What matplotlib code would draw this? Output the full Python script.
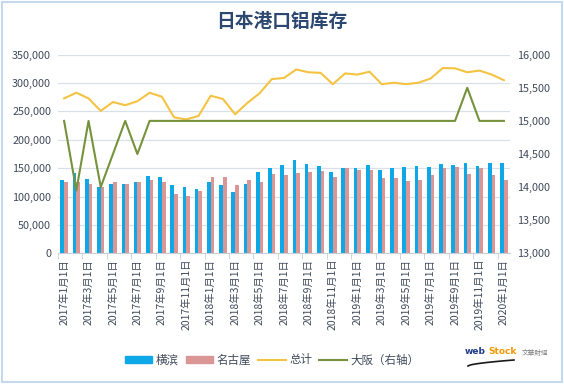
import matplotlib.pyplot as plt
import numpy as np
from matplotlib.patches import Rectangle, Patch
from matplotlib.lines import Line2D

plt.rcParams['font.family'] = ['Noto Sans CJK SC', 'DejaVu Sans']

# 月份 2017-01 .. 2020-01
dates = []
for y in (2017, 2018, 2019, 2020):
    for m in range(1, 13):
        dates.append(f"{y}年{m}月1日")
dates = dates[:37]

# 横滨、名古屋 (吨)
yokohama = [129500, 142000, 131000, 117000, 123000, 123000, 126000, 136500, 134750, 119500,
            117000, 113750, 126000, 120000, 108500, 123000, 143500, 150500, 155750, 164500,
            157500, 154000, 143500, 150500, 150500, 155750, 147000, 150500, 152000, 154000,
            152000, 157500, 155750, 159000, 154000, 159000, 159000]
nagoya = [126000, 125000, 123000, 117000, 126000, 123000, 126000, 130000, 125000, 105000,
          101500, 109000, 134750, 134750, 121000, 129500, 125000, 140000, 138250, 141750,
          143500, 145750, 135300, 150500, 147000, 147000, 133000, 133000, 127000, 129500,
          138700, 150500, 152000, 140500, 150500, 138000, 129500]
# 总计
total = [273000, 283000, 273000, 251000, 266600, 261000, 268000, 283000, 276000, 239600,
         236000, 242000, 277700, 272000, 245000, 265000, 282000, 307000, 309000, 324000,
         319000, 318000, 298000, 317000, 315000, 320000, 298000, 300600, 298000, 300600,
         308000, 326500, 326000, 319000, 322000, 315000, 305000]
# 大阪 (右轴)
osaka = [15000, 13950, 15000, 14000, 14500, 15000, 14500, 15000, 15000, 15000,
         15000, 15000, 15000, 15000, 15000, 15000, 15000, 15000, 15000, 15000,
         15000, 15000, 15000, 15000, 15000, 15000, 15000, 15000, 15000, 15000,
         15000, 15000, 15000, 15500, 15000, 15000, 15000]

c_blue = '#0EA8E6'
c_pink = '#D99694'
c_yellow = '#F5C342'
c_green = '#76923C'
c_text = '#404A5A'
c_grid = '#D9E0EA'

fig = plt.figure(figsize=(5.64, 3.84), dpi=100)
ax = fig.add_axes([58 / 564, 1 - 253.3 / 384, 452 / 564, 198.6 / 384])
ax2 = ax.twinx()

x = np.arange(len(dates))
w = 0.3
ax.bar(x - w / 2, yokohama, w, color=c_blue, zorder=2)
ax.bar(x + w / 2, nagoya, w, color=c_pink, zorder=2)
ax.plot(x, total, color=c_yellow, lw=1.5, zorder=3)
ax2.plot(x, osaka, color=c_green, lw=1.5)

ax.set_xlim(-0.5, len(dates) - 0.5)
ax.set_ylim(0, 350000)
ax2.set_ylim(13000, 16000)
ax.set_yticks(np.arange(0, 350001, 50000))
ax.set_yticklabels([f"{v:,}" for v in range(0, 350001, 50000)])
ax2.set_yticks(np.arange(13000, 16001, 500))
ax2.set_yticklabels([f"{v:,}" for v in range(13000, 16001, 500)])
ax.grid(axis='y', color=c_grid, lw=0.9, zorder=0)
ax.set_axisbelow(True)

ax.set_xticks(x[::2])
ax.set_xticklabels(dates[::2], rotation=90, fontsize=7.5, color=c_text)
ax.set_xticks(np.arange(-0.5, len(dates), 2), minor=True)
ax.tick_params(axis='x', which='major', length=0, pad=4)
ax.tick_params(axis='x', which='minor', length=4, color='#C8CED8')
ax.tick_params(axis='y', length=0, labelsize=7.8, labelcolor=c_text, pad=5)
ax2.tick_params(axis='y', length=0, labelsize=7.8, labelcolor=c_text, pad=5)

for a in (ax, ax2):
    for s in ('top', 'left', 'right'):
        a.spines[s].set_visible(False)
    a.spines['bottom'].set_color('#C8CED8')
ax2.spines['bottom'].set_visible(False)

fig.text(282 / 564, 1 - 21 / 384, "日本港口铝库存", ha='center', va='center',
         fontsize=13.5, fontweight='bold', color='#2C4770')

handles = [Patch(color=c_blue), Patch(color=c_pink),
           Line2D([], [], color=c_yellow, lw=1.5), Line2D([], [], color=c_green, lw=1.5)]
labels = ["横滨", "名古屋", "总计", "大阪（右轴）"]
fig.legend(handles, labels, loc='center', bbox_to_anchor=(272 / 564, 1 - 360 / 384),
           ncol=4, frameon=False, fontsize=8.3, handlelength=2.4, handleheight=0.6,
           columnspacing=0.6, handletextpad=0.3, labelcolor=c_text)

# 水印
fig.text(465 / 564, 1 - 352 / 384, "web", ha='left', va='center', fontsize=6.5,
         fontweight='bold', color='#1F3C88', family='DejaVu Sans')
fig.text(488 / 564, 1 - 352 / 384, "Stock", ha='left', va='center', fontsize=6.5,
         fontweight='bold', color='#F39800', family='DejaVu Sans')
fig.text(522 / 564, 1 - 353 / 384, "文華財經", ha='left', va='center', fontsize=4.8,
         color='#808080')
sx = np.linspace(468, 514, 20)
sy = 366 - 6 * ((sx - 468) / 46) ** 0.6
fig.add_artist(Line2D(sx / 564, 1 - sy / 384, color='#1A1A1A', lw=1.2,
                      transform=fig.transFigure))

fig.patches.append(Rectangle((0.003, 0.004), 0.994, 0.992, transform=fig.transFigure,
                             fill=False, edgecolor='#C5D9EE', lw=1.5))

fig.savefig('out.png', dpi=100, facecolor='white')
